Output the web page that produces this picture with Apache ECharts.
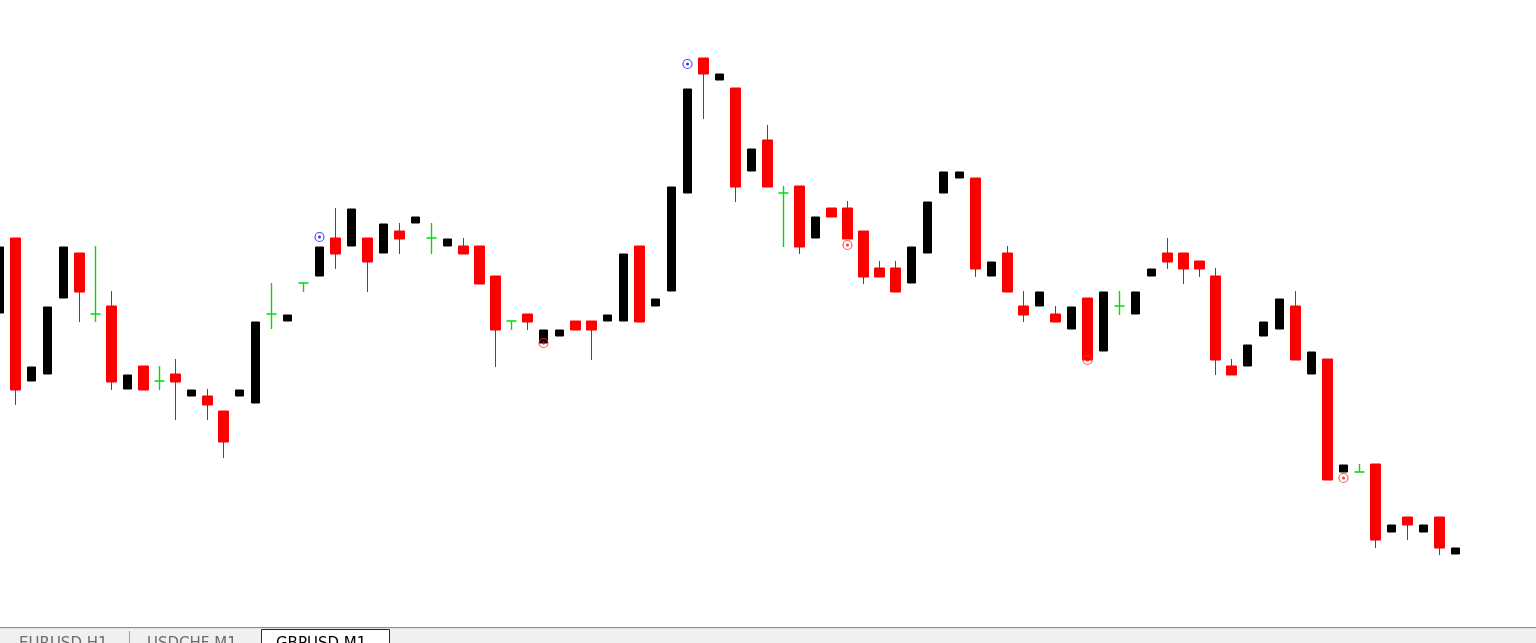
<!DOCTYPE html>
<html>
<head>
<meta charset="utf-8">
<title>GBPUSD,M1</title>
<script src="https://cdn.jsdelivr.net/npm/echarts@6/dist/echarts.min.js"></script>
<style>
  html, body { margin: 0; padding: 0; background: #fff; }
  #chart { width: 1536px; height: 643px; }
</style>
</head>
<body>
<div id="chart"></div>
<script>
// GBPUSD M1 - bars 0..91, last 5 slots empty (chart shift)
const opens  = [1.29487,1.29562,1.29419,1.29426,1.29502,1.29547,1.29486,1.29494,1.29411,1.29434,1.29419,1.29426,1.29404,1.29404,1.29389,1.29404,1.29397,1.29486,1.29479,1.29517,1.29524,1.29562,1.29554,1.29562,1.29547,1.29569,1.29577,1.29562,1.29554,1.29554,1.29554,1.29524,1.29479,1.29486,1.29457,1.29464,1.29479,1.29479,1.29479,1.29479,1.29554,1.29494,1.29509,1.29607,1.29742,1.29720,1.29712,1.29629,1.29660,1.29607,1.29614,1.29562,1.29592,1.29592,1.29569,1.29532,1.29532,1.29517,1.29547,1.29607,1.29622,1.29622,1.29524,1.29547,1.29494,1.29494,1.29486,1.29471,1.29502,1.29449,1.29494,1.29486,1.29524,1.29547,1.29547,1.29539,1.29524,1.29434,1.29434,1.29464,1.29471,1.29494,1.29426,1.29441,1.29328,1.29328,1.29336,1.29268,1.29283,1.29268,1.29283,1.29246];
const closes = [1.29553,1.29410,1.29433,1.29493,1.29553,1.29508,1.29486,1.29418,1.29425,1.29410,1.29419,1.29418,1.29410,1.29395,1.29358,1.29410,1.29478,1.29486,1.29485,1.29517,1.29553,1.29546,1.29591,1.29538,1.29576,1.29561,1.29583,1.29562,1.29561,1.29546,1.29516,1.29470,1.29479,1.29478,1.29470,1.29470,1.29470,1.29470,1.29485,1.29546,1.29478,1.29501,1.29613,1.29711,1.29726,1.29726,1.29613,1.29651,1.29613,1.29607,1.29553,1.29583,1.29583,1.29561,1.29523,1.29523,1.29508,1.29553,1.29598,1.29628,1.29628,1.29531,1.29538,1.29508,1.29485,1.29508,1.29478,1.29493,1.29440,1.29508,1.29494,1.29508,1.29531,1.29538,1.29531,1.29531,1.29440,1.29425,1.29455,1.29478,1.29501,1.29440,1.29448,1.29320,1.29335,1.29328,1.29260,1.29275,1.29275,1.29275,1.29252,1.29252];
const lows   = [1.29487,1.29395,1.29419,1.29426,1.29502,1.29478,1.29478,1.29410,1.29411,1.29410,1.29410,1.29380,1.29404,1.29380,1.29342,1.29404,1.29397,1.29471,1.29479,1.29508,1.29524,1.29531,1.29554,1.29508,1.29547,1.29546,1.29577,1.29546,1.29554,1.29546,1.29516,1.29433,1.29470,1.29470,1.29457,1.29464,1.29470,1.29440,1.29479,1.29479,1.29478,1.29494,1.29509,1.29607,1.29681,1.29720,1.29598,1.29629,1.29613,1.29553,1.29546,1.29562,1.29583,1.29561,1.29516,1.29523,1.29508,1.29517,1.29547,1.29607,1.29622,1.29523,1.29524,1.29508,1.29478,1.29494,1.29478,1.29471,1.29440,1.29449,1.29485,1.29486,1.29524,1.29531,1.29516,1.29523,1.29425,1.29425,1.29434,1.29464,1.29471,1.29440,1.29426,1.29320,1.29328,1.29328,1.29252,1.29268,1.29260,1.29268,1.29245,1.29246];
const highs  = [1.29553,1.29562,1.29433,1.29493,1.29553,1.29547,1.29554,1.29509,1.29425,1.29434,1.29434,1.29441,1.29410,1.29411,1.29389,1.29410,1.29478,1.29517,1.29485,1.29517,1.29553,1.29592,1.29591,1.29562,1.29576,1.29577,1.29583,1.29577,1.29561,1.29562,1.29554,1.29524,1.29479,1.29486,1.29470,1.29470,1.29479,1.29479,1.29485,1.29546,1.29554,1.29501,1.29613,1.29711,1.29742,1.29726,1.29712,1.29651,1.29675,1.29614,1.29614,1.29583,1.29592,1.29599,1.29569,1.29539,1.29539,1.29553,1.29598,1.29628,1.29628,1.29622,1.29538,1.29554,1.29509,1.29508,1.29494,1.29493,1.29502,1.29508,1.29509,1.29508,1.29531,1.29562,1.29547,1.29539,1.29532,1.29441,1.29455,1.29478,1.29501,1.29509,1.29448,1.29441,1.29335,1.29336,1.29336,1.29275,1.29283,1.29275,1.29283,1.29252];

// fractal style markers: [bar index, price]
const upMarks   = [[20, 1.29563], [43, 1.29736]];
const downMarks = [[34, 1.29457], [53, 1.29555], [68, 1.29440], [84, 1.29322]];

const emptySlots = 5;
const times = [];
for (let i = 0; i < opens.length + emptySlots; i++) {
    const m = 8 * 60 + 12 + i;
    times.push(String(Math.floor(m / 60)).padStart(2, '0') + ':' + String(m % 60).padStart(2, '0'));
}

// split bars into bull / bear / doji series (ECharts order: open, close, low, high)
const bullData = [], bearData = [], dojiData = [];
for (let i = 0; i < opens.length; i++) {
    const v = [opens[i], closes[i], lows[i], highs[i]];
    bullData.push(closes[i] > opens[i] ? v : '-');
    bearData.push(closes[i] < opens[i] ? v : '-');
    dojiData.push(closes[i] === opens[i] ? v : '-');
}

const chart = echarts.init(document.getElementById('chart'));

const tabFont = '15px "DejaVu Sans", sans-serif';

chart.setOption({
    backgroundColor: '#ffffff',
    animation: false,
    grid: {
        left: -8.5,
        top: 0,
        width: times.length * 16,
        height: 627,
        outerBoundsMode: 'none',
        containLabel: false
    },
    xAxis: {
        type: 'category',
        data: times,
        boundaryGap: true,
        axisLine: { show: false },
        axisTick: { show: false },
        axisLabel: { show: false },
        splitLine: { show: false }
    },
    yAxis: {
        type: 'value',
        min: 1.29173,
        max: 1.29800,
        scale: true,
        axisLine: { show: false },
        axisTick: { show: false },
        axisLabel: { show: false },
        splitLine: { show: false }
    },
    series: [
        {
            name: 'bull',
            type: 'candlestick',
            data: bullData,
            barWidth: 9,
            itemStyle: {
                color: '#000000',
                color0: '#000000',
                borderColor: '#000000',
                borderColor0: '#000000',
                borderWidth: 1
            }
        },
        {
            name: 'bear',
            type: 'candlestick',
            data: bearData,
            barWidth: 11,
            itemStyle: {
                color: '#ff0000',
                color0: '#ff0000',
                borderColor: '#ff0000',
                borderColor0: '#ff0000',
                borderWidth: 1
            }
        },
        {
            name: 'doji',
            type: 'candlestick',
            data: dojiData,
            barWidth: 11,
            itemStyle: {
                color: '#00dd00',
                color0: '#00dd00',
                borderColor: '#00dd00',
                borderColor0: '#00dd00',
                borderWidth: 1.4
            }
        },
        {
            type: 'scatter',
            data: upMarks,
            symbol: 'circle',
            symbolSize: 9,
            itemStyle: { color: '#ffffff', borderColor: '#2020ff', borderWidth: 1.2 },
            z: 5
        },
        {
            type: 'scatter',
            data: upMarks,
            symbol: 'circle',
            symbolSize: 3,
            itemStyle: { color: '#0000ff' },
            z: 6
        },
        {
            type: 'scatter',
            data: downMarks,
            symbol: 'circle',
            symbolSize: 9,
            itemStyle: { color: 'rgba(255,255,255,0)', borderColor: '#ff3030', borderWidth: 1.2 },
            z: 5
        },
        {
            type: 'scatter',
            data: downMarks,
            symbol: 'circle',
            symbolSize: 3,
            itemStyle: { color: '#ff0000' },
            z: 6
        }
    ],
    graphic: [
        // tab bar at the bottom of the terminal window
        { type: 'rect', left: 0, top: 627, shape: { width: 1536, height: 16 }, style: { fill: '#f0f0f0' }, silent: true },
        { type: 'rect', left: 0, top: 627, shape: { width: 1536, height: 1 }, style: { fill: '#8c8c8c' }, silent: true },
        { type: 'rect', left: 0, top: 628, shape: { width: 1536, height: 1 }, style: { fill: '#e3e3e3' }, silent: true },
        { type: 'rect', left: 129, top: 631, shape: { width: 1, height: 12 }, style: { fill: '#a0a0a0' }, silent: true },
        { type: 'rect', left: 261, top: 629, shape: { width: 128, height: 14 }, style: { fill: '#ffffff', stroke: '#2b2b2b', lineWidth: 1 }, silent: true },
        { type: 'text', left: 19, top: 637, style: { text: 'EURUSD,H1', font: tabFont, fill: '#6d6d6d' }, silent: true },
        { type: 'text', left: 147, top: 637, style: { text: 'USDCHF,M1', font: tabFont, fill: '#6d6d6d' }, silent: true },
        { type: 'text', left: 276, top: 637, style: { text: 'GBPUSD,M1', font: tabFont, fill: '#000000' }, silent: true }
    ]
});
</script>
</body>
</html>
